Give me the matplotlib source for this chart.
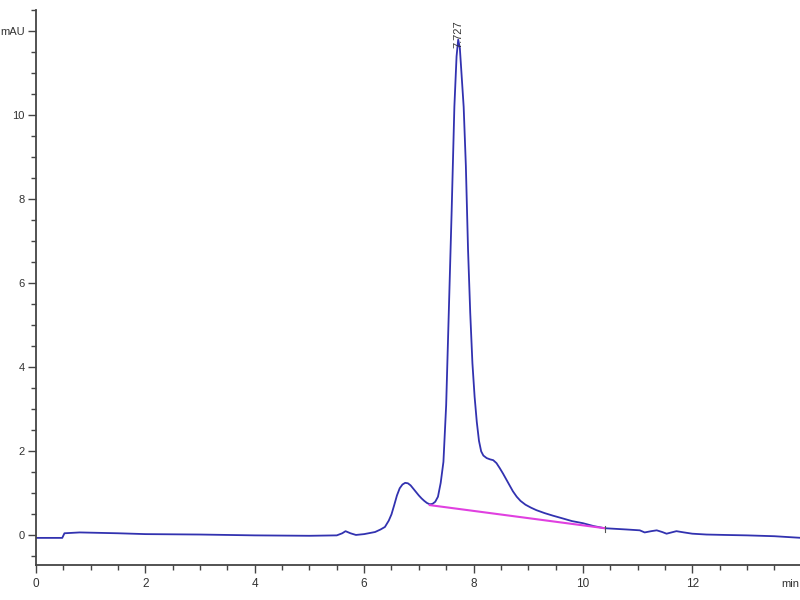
import matplotlib
matplotlib.use("Agg")
import matplotlib.pyplot as plt
from matplotlib.ticker import MultipleLocator

plt.rcParams['font.family'] = ['Liberation Sans', 'DejaVu Sans']

# chromatogram trace (min, mAU)
time_min = [0, 0.48, 0.52, 0.8, 1.5, 2.0, 3.0, 4.0, 5.0, 5.5, 5.6, 5.66, 5.75, 5.85,
            6.0, 6.2, 6.3, 6.38, 6.45, 6.5, 6.55, 6.6, 6.65, 6.7, 6.75, 6.8, 6.85,
            6.9, 6.95, 7.0, 7.05, 7.1, 7.15, 7.2, 7.25, 7.3, 7.35, 7.4, 7.45, 7.5,
            7.55, 7.6, 7.65, 7.69, 7.72, 7.75, 7.78, 7.82, 7.86, 7.9, 7.94, 7.98,
            8.02, 8.06, 8.1, 8.14, 8.18, 8.24, 8.3, 8.36, 8.42, 8.48, 8.54, 8.6,
            8.66, 8.72, 8.79, 8.86, 8.95, 9.05, 9.15, 9.3, 9.45, 9.64, 9.8, 10.0,
            10.2, 10.4, 10.8, 11.04, 11.13, 11.25, 11.35, 11.45, 11.53, 11.62,
            11.71, 11.85, 12.0, 12.26, 12.6, 13.0, 13.5, 14.0]
signal_mau = [-0.06, -0.06, 0.05, 0.07, 0.05, 0.03, 0.02, 0.0, -0.01, 0.0, 0.05, 0.1,
              0.05, 0.01, 0.03, 0.08, 0.14, 0.2, 0.35, 0.5, 0.72, 0.95, 1.12, 1.21,
              1.25, 1.24, 1.19, 1.11, 1.03, 0.95, 0.88, 0.82, 0.77, 0.74, 0.75, 0.8,
              0.92, 1.25, 1.75, 3.1, 5.4, 7.7, 10.2, 11.4, 11.8, 11.6, 11.0, 10.2,
              8.8, 6.8, 5.3, 4.1, 3.3, 2.7, 2.25, 2.0, 1.9, 1.84, 1.81, 1.79, 1.72,
              1.6, 1.47, 1.33, 1.19, 1.05, 0.92, 0.82, 0.73, 0.66, 0.6, 0.53, 0.47,
              0.4, 0.34, 0.29, 0.22, 0.17, 0.14, 0.12, 0.07, 0.1, 0.12, 0.08, 0.04,
              0.07, 0.1, 0.07, 0.04, 0.02, 0.01, 0.0, -0.02, -0.06]

# integration baseline
base_t = [7.2, 10.4]
base_y = [0.72, 0.17]

peak_rt = 7.727
peak_h = 11.8

fig = plt.figure(figsize=(8, 6), dpi=100)
ax = fig.add_axes([0.045, 0.058, 0.955, 0.925])

ax.plot(time_min, signal_mau, color='#3232b0', lw=1.3)
ax.plot(base_t, base_y, color='#e040e0', lw=1.5)
ax.plot([base_t[1], base_t[1]], [base_y[1] - 0.1, base_y[1] + 0.05], color='#555555', lw=0.8)

ax.text(peak_rt, peak_h - 0.2, '%.3f' % peak_rt, rotation=90, ha='center', va='bottom',
        fontsize=8, color='#333333')

ax.set_xlim(0, 13.97)
ax.set_ylim(-0.71, 12.5)

ax.xaxis.set_major_locator(MultipleLocator(2))
ax.xaxis.set_minor_locator(MultipleLocator(0.5))
ax.set_yticks([0, 2, 4, 6, 8, 10, 12])
ax.set_yticklabels(['0', '2', '4', '6', '8', '10', 'mAU'])
ax.yaxis.set_minor_locator(MultipleLocator(0.5))

for s in ['top', 'right']:
    ax.spines[s].set_visible(False)
for s in ['left', 'bottom']:
    ax.spines[s].set_color('#444444')
    ax.spines[s].set_linewidth(1.3)

ax.tick_params(which='major', direction='out', length=6, width=1, colors='#444444',
               labelsize=8.5, labelcolor='#333333')
ax.tick_params(axis='y', which='major', labelsize=8, pad=2)
ax.tick_params(which='minor', direction='out', length=3.5, width=1, colors='#444444')

# unit label at the right end of the time axis
ax.text(13.62, -1.04, 'min', ha='left', va='top', fontsize=8, color='#333333',
        clip_on=False)

fig.savefig('out.png', dpi=100)
